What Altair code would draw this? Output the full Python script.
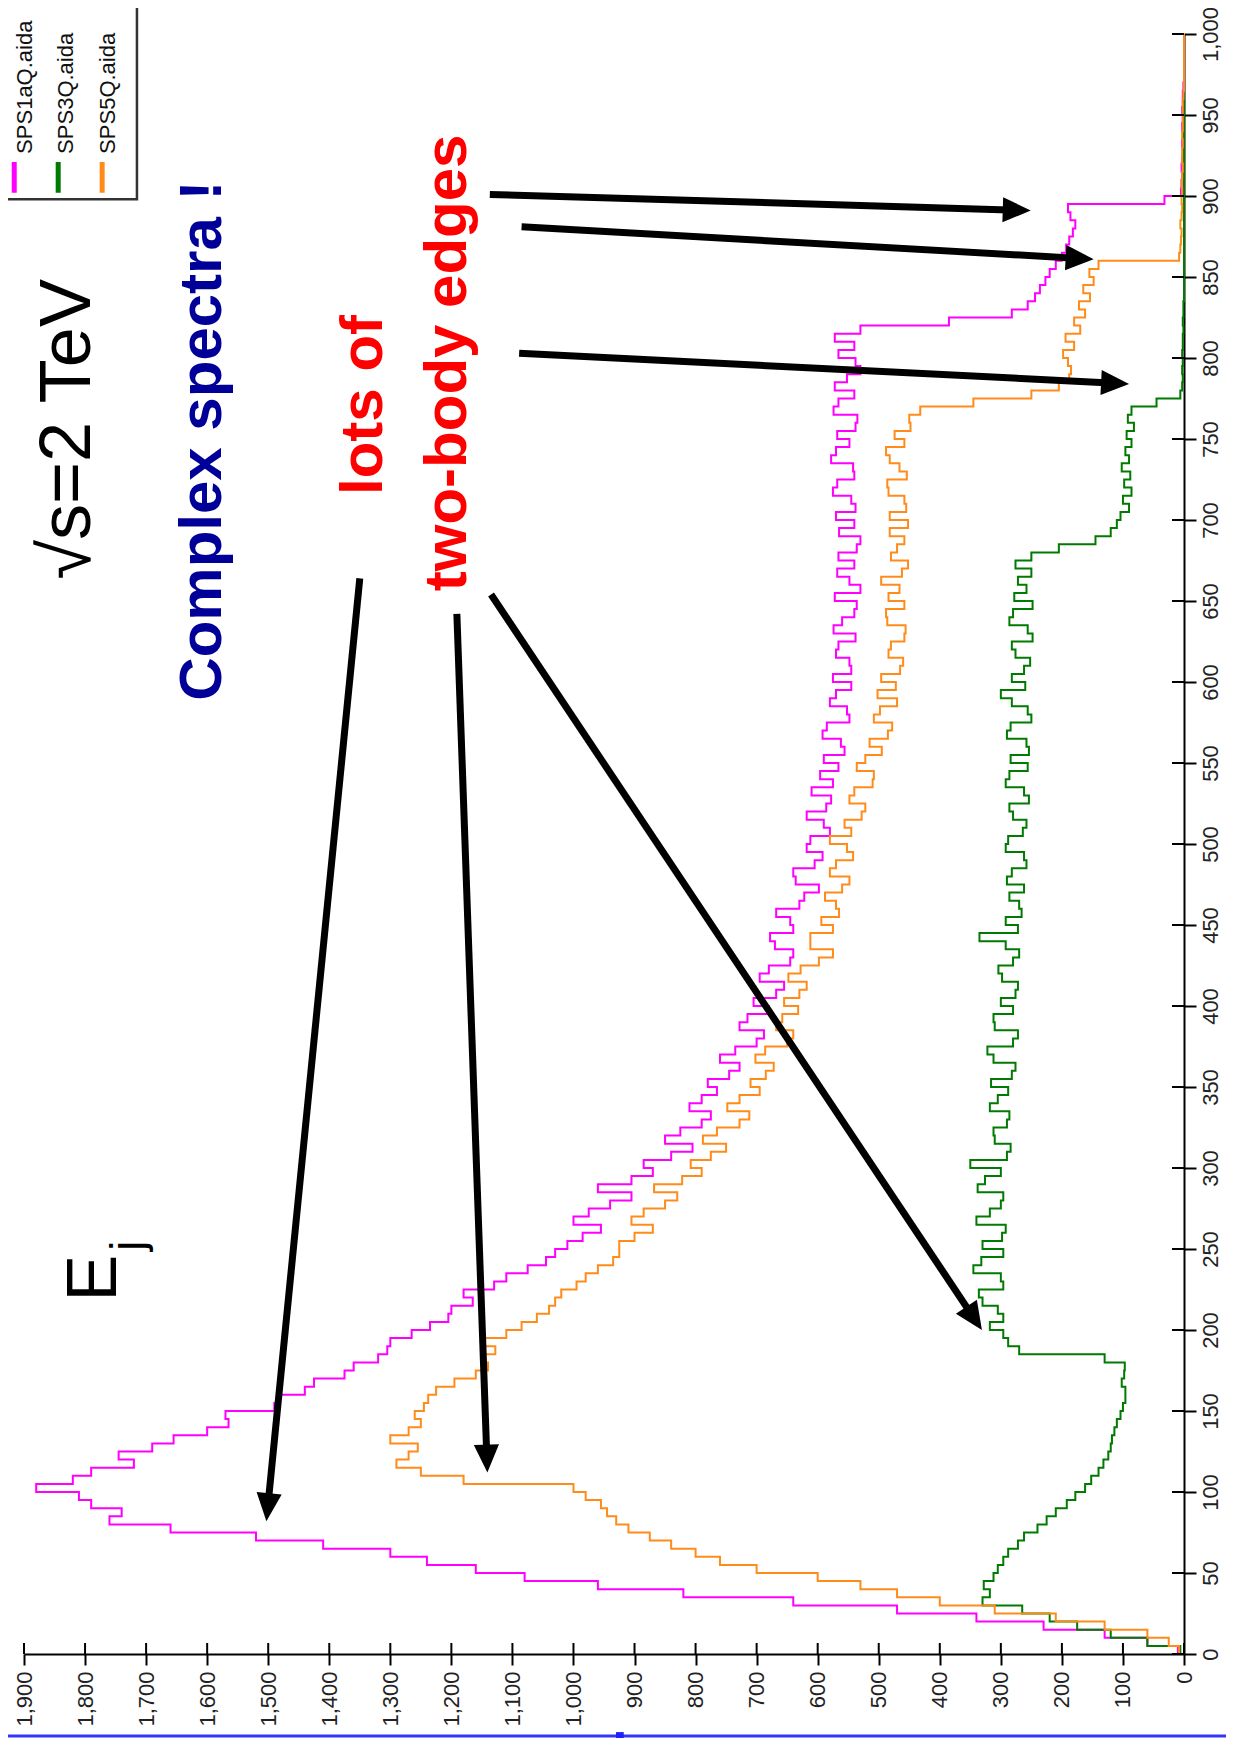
import math
import altair as alt
import pandas as pd

# ---------------- data (5 GeV bins, lower edges) ----------------
energy_edges = list(range(0, 1000, 5))

sps1aq = [
    10, 60, 130, 230, 340, 470, 640, 820, 960, 1080,
    1160, 1240, 1300, 1410, 1520, 1660, 1760, 1740, 1790, 1810,
    1880, 1820, 1790, 1720, 1745, 1690, 1655, 1600, 1565, 1570,
    1490, 1485, 1440, 1425, 1375, 1360, 1320, 1305, 1300, 1265,
    1235, 1205, 1200, 1165, 1180, 1130, 1110, 1075, 1045, 1030,
    1010, 985, 955, 1000, 975, 940, 905, 960, 905, 870,
    885, 840, 805, 850, 825, 790, 775, 810, 790, 765,
    780, 745, 728, 760, 735, 700, 688, 728, 715, 680,
    705, 668, 655, 695, 680, 645, 640, 670, 678, 640,
    645, 668, 630, 622, 598, 636, 640, 605, 592, 618,
    612, 580, 590, 618, 586, 578, 610, 575, 596, 566,
    590, 556, 562, 592, 585, 548, 552, 580, 570, 545,
    575, 545, 548, 570, 566, 538, 574, 560, 540, 536,
    572, 530, 548, 568, 540, 566, 536, 530, 565, 540,
    570, 538, 545, 575, 568, 540, 542, 578, 570, 548,
    568, 538, 535, 574, 566, 540, 572, 552, 530, 538,
    566, 540, 572, 530, 385, 282, 256, 244, 236, 227,
    220, 210, 200, 193, 188, 182, 178, 186, 190, 32,
    5, 4, 3, 4, 3, 2, 3, 2, 3, 2,
    3, 2, 2, 1, 0, 0, 0, 0, 0, 0,
]

sps3q = [
    6, 60, 120, 175, 220, 265, 330, 318, 328, 312,
    305, 296, 288, 272, 262, 240, 225, 210, 192, 178,
    162, 152, 140, 132, 124, 120, 118, 114, 110, 104,
    100, 96, 96, 102, 98, 97, 130, 270, 288, 296,
    318, 296, 305, 330, 336, 296, 300, 345, 332, 296,
    330, 298, 292, 340, 318, 300, 296, 338, 326, 300,
    350, 290, 284, 310, 312, 290, 286, 318, 305, 288,
    316, 282, 276, 312, 322, 280, 272, 310, 312, 280,
    300, 276, 272, 298, 304, 280, 270, 292, 335, 272,
    292, 266, 270, 286, 262, 290, 282, 258, 262, 292,
    288, 264, 258, 280, 286, 254, 262, 292, 286, 256,
    284, 254, 258, 290, 284, 250, 256, 282, 300, 260,
    282, 262, 252, 276, 282, 248, 256, 286, 280, 248,
    278, 258, 272, 250, 276, 250, 205, 145, 120, 110,
    104, 90, 100, 86, 98, 88, 102, 90, 96, 86,
    94, 82, 92, 86, 45, 6, 3, 2, 3, 2,
    3, 2, 2, 1, 2, 1, 1, 0, 0, 0,
    0, 0, 0, 0, 0, 0, 0, 0, 0, 0,
    0, 0, 0, 0, 0, 0, 0, 0, 0, 0,
    0, 0, 0, 0, 0, 0, 0, 0, 0, 0,
]

sps5q = [
    8, 25, 60, 130, 210, 310, 400, 470, 530, 600,
    700, 760, 800, 840, 875, 910, 930, 945, 955, 980,
    1000, 1180, 1250, 1290, 1270, 1255, 1300, 1270, 1250, 1260,
    1245, 1238, 1225, 1195, 1160, 1140, 1150, 1128, 1150, 1110,
    1085, 1060, 1040, 1030, 1020, 995, 980, 960, 935, 925,
    925, 900, 870, 905, 885, 850, 830, 868, 822, 790,
    808, 775, 750, 788, 765, 728, 712, 748, 728, 695,
    710, 685, 672, 702, 686, 650, 640, 668, 658, 632,
    655, 630, 618, 648, 628, 598, 575, 612, 612, 575,
    594, 565, 570, 588, 560, 548, 580, 570, 542, 552,
    580, 545, 556, 528, 522, 548, 540, 510, 508, 536,
    522, 495, 515, 485, 478, 508, 498, 470, 502, 472,
    496, 465, 460, 484, 480, 458, 456, 486, 488, 458,
    484, 466, 496, 462, 452, 480, 470, 458, 482, 452,
    482, 455, 458, 484, 486, 454, 466, 482, 488, 458,
    474, 448, 450, 432, 345, 250, 205, 188, 185, 190,
    198, 180, 194, 170, 180, 162, 172, 154, 165, 148,
    155, 140, 8, 6, 5, 4, 6, 4, 3, 4,
    3, 4, 3, 2, 3, 3, 2, 3, 2, 2,
    2, 2, 1, 0, 0, 0, 0, 0, 0, 0,
]

series_names = ["SPS1aQ.aida", "SPS3Q.aida", "SPS5Q.aida"]
series_colors = ["#FF00FF", "#007A00", "#FF8C1A"]

count_ticks = list(range(0, 2000, 100))
energy_ticks = list(range(0, 1050, 50))

# annotations (data coordinates: counts, energy)
arrow_c0 = [1350, 1191, 1135, 1137, 1085, 1089]
arrow_e0 = [664, 642, 654, 901, 881, 803]
arrow_c1 = [1503, 1141, 331, 251, 148, 90]
arrow_e1 = [82, 112, 200, 891, 861, 784]

note_regular = ["√s=2 TeV"]
note_regular_c = [1828]
note_regular_e = [756]
note_bold = ["Complex spectra !", "lots of", "two-body edges"]
note_bold_c = [1607, 1343, 1206]
note_bold_e = [749, 771, 797]
note_bold_colors = ["#000099", "#FF0000", "#FF0000"]

ej_text = ["E", "j"]
ej_c = [1784, 1728]
ej_e = [232, 252]
ej_size = [70, 46]

legend_label_c = [1898, 1832, 1762]
legend_label_e = [926, 926, 926]
legend_swatch_c = [1916, 1844, 1772]
legend_swatch_e = [902, 921]
legend_box_c = [1715, 2000]
legend_box_e = [898, 1045]

W, H = 1160, 1620
SX, SY = W / 1900.0, H / 1000.0

# ---------------- tables ----------------
rows = []
for name, vals in zip(series_names, [sps1aq, sps3q, sps5q]):
    for e, c in zip(energy_edges, vals):
        rows.append({"E": e, "C": c, "series": name})
    rows.append({"E": 1000, "C": 0, "series": name})
hist = pd.DataFrame(rows)

arrows = []
for c0, e0, c1, e1 in zip(arrow_c0, arrow_e0, arrow_c1, arrow_e1):
    px = -(c1 - c0) * SX
    py = -(e1 - e0) * SY
    L = math.hypot(px, py)
    ux, uy = px / L, py / L
    back = 14.0
    ang = math.degrees(math.atan2(px, -py)) % 360
    arrows.append({"c0": c0, "e0": e0, "c1": c1, "e1": e1,
                   "cs": c1 + back * ux / SX, "es": e1 + back * uy / SY,
                   "ang": ang})
arrows = pd.DataFrame(arrows)

xs = alt.Scale(domain=[0, 1900], reverse=True, nice=False, zero=False)
ys = alt.Scale(domain=[0, 1000], nice=False, zero=False)
cs = alt.Scale(domain=series_names, range=series_colors)


def X(f):
    return alt.X(f, title=None)


def Y(f):
    return alt.Y(f, title=None)


lines = alt.Chart(hist).mark_line(interpolate="step-before", strokeWidth=2).encode(
    x=alt.X("C:Q", scale=xs, title=None, axis=alt.Axis(
        orient="bottom", values=count_ticks, format=",d", title=None,
        labelAngle=270, labelAlign="right", labelBaseline="middle",
        labelPadding=6, tickSize=11, grid=False)),
    y=alt.Y("E:Q", scale=ys, title=None, axis=alt.Axis(
        orient="right", values=energy_ticks, format=",d", title=None,
        labelAngle=270, labelAlign="center", labelBaseline="top",
        labelPadding=4, tickSize=12, grid=False)),
    color=alt.Color("series:N", scale=cs, legend=None),
    order=alt.Order("E:Q"),
)

# inner halves of the crossing ticks
etick_df = pd.DataFrame({"E": energy_ticks, "c_a": [0] * len(energy_ticks),
                         "c_b": [12 / SX] * len(energy_ticks)})
ctick_df = pd.DataFrame({"C": count_ticks, "e_a": [0] * len(count_ticks),
                         "e_b": [11 / SY] * len(count_ticks)})
etick = alt.Chart(etick_df).mark_rule(color="black", strokeWidth=2).encode(
    x=X("c_a:Q"), x2="c_b:Q", y=Y("E:Q"))
ctick = alt.Chart(ctick_df).mark_rule(color="black", strokeWidth=2).encode(
    x=X("C:Q"), y=Y("e_a:Q"), y2="e_b:Q")

shafts = alt.Chart(arrows).mark_rule(color="black", strokeWidth=7).encode(
    x=X("c0:Q"), x2="cs:Q", y=Y("e0:Q"), y2="es:Q")
heads = alt.Chart(arrows).mark_point(
    shape="M0,0 L-0.9,2 L0.9,2 Z", filled=True, color="black",
    opacity=1, size=784, strokeWidth=0).encode(
    x=X("c1:Q"), y=Y("e1:Q"), angle=alt.Angle("ang:Q", scale=None))

reg_df = pd.DataFrame({"c": note_regular_c, "e": note_regular_e, "t": note_regular})
bold_df = pd.DataFrame({"c": note_bold_c, "e": note_bold_e, "t": note_bold,
                        "col": note_bold_colors})
txt_reg = alt.Chart(reg_df).mark_text(
    angle=270, align="center", baseline="middle", font="Liberation Sans",
    fontSize=72, color="black").encode(x=X("c:Q"), y=Y("e:Q"), text="t:N")
txt_bold = alt.Chart(bold_df).mark_text(
    angle=270, align="center", baseline="middle", font="Liberation Sans",
    fontSize=60, fontWeight="bold").encode(
    x=X("c:Q"), y=Y("e:Q"), text="t:N", color=alt.Color("col:N", scale=None))

ej_df = pd.DataFrame({"c": ej_c, "e": ej_e, "t": ej_text, "fs": ej_size})
txt_ej = alt.Chart(ej_df).mark_text(
    angle=270, align="center", baseline="middle", font="Liberation Sans",
    color="black").encode(
    x=X("c:Q"), y=Y("e:Q"), text="t:N", size=alt.Size("fs:Q", scale=None))

# legend (drawn by hand because its text is rotated)
box_df = pd.DataFrame({"c1": [legend_box_c[0]], "c2": [legend_box_c[1]],
                       "e1": [legend_box_e[0]], "e2": [legend_box_e[1]]})
legend_box = alt.Chart(box_df).mark_rect(
    fill="white", stroke="#333333", strokeWidth=2.5).encode(
    x=X("c1:Q"), x2="c2:Q", y=Y("e1:Q"), y2="e2:Q")
sw_df = pd.DataFrame({"c": legend_swatch_c, "e1": [legend_swatch_e[0]] * 3,
                      "e2": [legend_swatch_e[1]] * 3, "series": series_names})
legend_sw = alt.Chart(sw_df).mark_rule(strokeWidth=5).encode(
    x=X("c:Q"), y=Y("e1:Q"), y2="e2:Q",
    color=alt.Color("series:N", scale=cs, legend=None))
lab_df = pd.DataFrame({"c": legend_label_c, "e": legend_label_e, "t": series_names})
legend_lab = alt.Chart(lab_df).mark_text(
    angle=270, align="left", baseline="middle", font="Liberation Sans",
    fontSize=22, color="#111111").encode(x=X("c:Q"), y=Y("e:Q"), text="t:N")

# blue slide border at the bottom
blue_df = pd.DataFrame({"c1": [1960], "c2": [-90], "e": [-50.6]})
blue_line = alt.Chart(blue_df).mark_rule(color="#3434FF", strokeWidth=3).encode(
    x=X("c1:Q"), x2="c2:Q", y=Y("e:Q"))
blue_sq = alt.Chart(pd.DataFrame({"c": [924], "e": [-50.6]})).mark_square(
    color="#2020FF", size=60, opacity=1).encode(x=X("c:Q"), y=Y("e:Q"))

chart = alt.layer(
    lines, etick, ctick, shafts, heads, txt_reg, txt_bold, txt_ej,
    legend_box, legend_sw, legend_lab, blue_line, blue_sq,
).properties(
    width=W, height=H,
    padding={"left": 16, "top": 26, "right": 42, "bottom": 84},
    autosize=alt.AutoSizeParams(type="none"),
).configure_view(stroke=None).configure_axis(
    domainColor="black", domainWidth=2, tickColor="black", tickWidth=2,
    labelFont="Liberation Sans", labelFontSize=22, labelColor="#222222",
)

chart.save("out.html", embed_options={"renderer": "svg", "actions": False})
